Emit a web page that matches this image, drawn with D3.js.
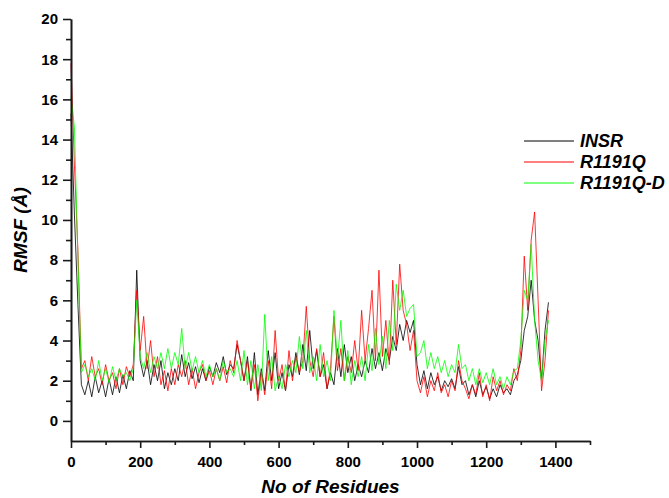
<!DOCTYPE html>
<html>
<head>
<meta charset="utf-8">
<script src="https://cdn.jsdelivr.net/npm/d3@7"></script>
<style>
  body { margin: 0; background: #fff; }
  text { font-family: "Liberation Sans", Arial, sans-serif; }
</style>
</head>
<body>
<svg id="chart" width="669" height="498"></svg>
<script>
//DATA (one value every 10 residues, starting at residue 0)
var residueStep = 10;

var seriesNames = ["INSR", "R1191Q", "R1191Q-D"];
var seriesColors = ["#000000", "#ff0000", "#00ff00"];

var insr = [15.3, 10.2, 5.8, 1.8, 1.3, 2.0, 1.2, 2.2, 1.4, 2.0,
    1.2, 2.1, 1.3, 2.2, 1.4, 2.3, 1.6, 2.5, 2.0, 7.5,
    3.0, 2.2, 3.0, 1.8, 2.8, 2.0, 3.0, 1.6, 2.4, 1.8,
    2.6, 2.0, 3.3, 2.2, 2.9, 2.1, 2.7, 1.9, 2.6, 2.0,
    2.7, 2.2, 2.9, 2.4, 3.2, 2.3, 2.8, 2.6, 3.8, 3.0,
    2.0, 3.2, 1.5, 3.4, 1.3, 2.6, 1.5, 3.5, 2.0, 3.4,
    1.6, 2.4, 1.5, 2.8, 2.2, 3.4, 2.3, 3.8, 2.5, 4.5,
    2.6, 3.5, 2.2, 2.8, 1.6, 2.4, 1.8, 3.6, 2.2, 3.8,
    2.4, 3.2, 2.0, 2.8, 2.2, 3.0, 2.4, 3.6, 2.6, 3.4,
    2.5, 3.6, 3.0, 4.2, 3.5, 4.8, 4.0, 5.0, 4.4, 5.0,
    2.8, 1.8, 2.5, 1.6, 2.4, 1.8, 2.2, 1.5, 2.0, 1.7,
    2.1, 1.6, 2.7, 1.8, 2.0, 1.3, 1.8, 1.2, 2.0, 1.3,
    1.7, 1.1, 1.6, 1.2, 1.8, 1.4, 1.6, 1.3, 2.0, 2.3,
    3.0, 4.5, 5.2, 7.0, 5.0, 4.0, 2.0, 4.5, 5.9];

var r1191q = [17.8, 12.7, 8.5, 2.6, 3.0, 2.0, 3.2, 2.2, 2.6, 1.8,
    2.8, 2.0, 2.4, 1.6, 2.6, 1.8, 2.7, 2.2, 2.8, 6.5,
    3.5, 5.2, 2.6, 4.0, 2.2, 3.2, 1.8, 2.5, 1.5, 2.6,
    1.8, 2.8, 2.2, 3.0, 1.8, 2.6, 1.6, 2.4, 2.8, 2.0,
    2.5, 1.8, 2.6, 2.0, 2.7, 1.9, 3.0, 2.4, 4.0, 3.0,
    2.0, 3.0, 1.6, 2.8, 1.0, 2.4, 1.3, 3.0, 1.6, 4.5,
    2.0, 2.8, 1.5, 3.5, 2.0, 3.2, 2.4, 3.0, 5.7, 3.0,
    2.2, 3.6, 2.2, 3.4, 1.6, 2.6, 5.2, 2.5, 3.6, 2.0,
    3.2, 2.4, 4.0, 2.5, 5.5, 3.0, 4.6, 6.5, 3.0, 7.5,
    3.2, 5.0, 2.8, 7.0, 3.8, 7.8, 5.5, 4.8, 3.5, 4.5,
    2.0, 1.4, 2.2, 1.2, 2.0, 1.5, 2.4, 1.4, 1.8, 1.2,
    2.0, 1.5, 3.0, 2.0, 1.6, 1.1, 1.8, 1.3, 2.4, 1.2,
    1.8, 1.0, 2.2, 1.5, 2.0, 1.3, 1.8, 1.5, 2.6, 2.0,
    3.5, 8.2, 5.5, 9.0, 10.4, 6.0, 1.5, 3.0, 5.5];

var r1191qD = [16.1, 14.6, 8.0, 2.4, 2.8, 2.2, 2.6, 2.0, 3.0, 2.0,
    2.6, 1.9, 2.7, 2.0, 2.6, 2.2, 2.4, 2.0, 2.6, 6.0,
    3.2, 2.6, 3.4, 2.4, 3.2, 2.6, 3.4, 2.6, 3.6, 2.6,
    3.4, 2.8, 4.6, 2.6, 3.4, 2.5, 3.2, 2.4, 3.0, 2.2,
    2.8, 2.2, 2.6, 2.0, 3.0, 2.4, 2.6, 2.2, 3.0, 2.0,
    3.5, 1.8, 3.0, 1.6, 2.8, 1.5, 5.3, 2.0, 3.2, 1.5,
    2.2, 1.6, 2.8, 2.2, 3.0, 2.4, 4.2, 2.6, 4.5, 2.4,
    3.2, 2.0, 3.8, 2.2, 3.0, 2.0, 5.5, 3.0, 5.0, 2.0,
    3.5, 1.8, 3.0, 2.2, 3.2, 2.0, 3.8, 2.5, 4.6, 2.8,
    4.2, 2.6, 5.0, 3.5, 6.8, 5.5, 6.5, 5.2, 5.6, 5.8,
    3.2, 3.4, 4.0, 2.6, 3.4, 2.6, 3.2, 2.4, 3.0, 2.2,
    2.8, 2.4, 3.8, 2.6, 2.8, 2.0, 2.6, 1.8, 2.6, 1.9,
    2.4, 1.8, 2.6, 1.8, 2.2, 1.6, 2.2, 1.8, 2.5, 2.6,
    4.0, 6.5, 6.0, 8.8, 5.0, 3.0, 2.0, 4.0, 5.0];

var xMajorTicks = [0, 200, 400, 600, 800, 1000, 1200, 1400];
var xMinorTicks = [100, 300, 500, 700, 900, 1100, 1300, 1500];
var yMajorTicks = [0, 2, 4, 6, 8, 10, 12, 14, 16, 18, 20];
var yMinorTicks = [1, 3, 5, 7, 9, 11, 13, 15, 17, 19];

var xTitle = "No of Residues";
var yTitle = "RMSF (Å)";

//LAYOUT
var svg = d3.select("#chart");
var x = d3.scaleLinear().domain([0, 1500]).range([71, 590]);
var y = d3.scaleLinear().domain([-1, 20]).range([441, 19]);

//draws the three RMSF traces
function drawLines() {
    var allSeries = [insr, r1191q, r1191qD];
    var line = d3.line()
        .x(function(d, i) { return x(i * residueStep); })
        .y(function(d) { return y(d); });

    svg.append("g")
        .selectAll("path")
        .data(allSeries)
        .enter().append("path")
        .attr("d", function(d) { return line(d); })
        .attr("fill", "none")
        .attr("stroke", function(d, i) { return seriesColors[i]; })
        .attr("stroke-width", 0.8)
        .attr("stroke-linejoin", "round");
}

//axes with major and minor ticks
function drawAxes() {
    var xMinor = svg.append("g").attr("transform", "translate(0," + y(-1) + ")")
        .call(d3.axisBottom(x).tickValues(xMinorTicks).tickSize(4).tickSizeOuter(0).tickFormat(""));
    var xMajor = svg.append("g").attr("transform", "translate(0," + y(-1) + ")")
        .call(d3.axisBottom(x).tickValues(xMajorTicks).tickSize(7).tickSizeOuter(0).tickPadding(8).tickFormat(d3.format("d")));

    var yMinor = svg.append("g").attr("transform", "translate(" + x(0) + ",0)")
        .call(d3.axisLeft(y).tickValues(yMinorTicks).tickSize(5).tickSizeOuter(0).tickFormat(""));
    var yMajor = svg.append("g").attr("transform", "translate(" + x(0) + ",0)")
        .call(d3.axisLeft(y).tickValues(yMajorTicks).tickSize(8).tickSizeOuter(0).tickPadding(5).tickFormat(d3.format("d")));

    [xMinor, xMajor, yMinor, yMajor].forEach(function(g) {
        g.selectAll("path, line").attr("stroke", "#1a1a1a").attr("stroke-width", 1.6);
        g.selectAll("text")
            .attr("fill", "#000")
            .style("font-size", "15px")
            .style("font-weight", "bold")
            .style("font-family", "'Liberation Sans', Arial, sans-serif");
    });

    svg.append("text")
        .attr("x", (x(0) + x(1500)) / 2)
        .attr("y", 493)
        .attr("text-anchor", "middle")
        .style("font-size", "19px")
        .style("font-weight", "bold")
        .style("font-style", "italic")
        .text(xTitle);

    svg.append("text")
        .attr("transform", "translate(27," + (y(-1) + y(20)) / 2 + ") rotate(-90)")
        .attr("text-anchor", "middle")
        .style("font-size", "19px")
        .style("font-weight", "bold")
        .style("font-style", "italic")
        .text(yTitle);
}

function drawLegend() {
    var legend = svg.append("g")
        .selectAll("g")
        .data(seriesNames)
        .enter().append("g")
        .attr("transform", function(d, i) { return "translate(524," + (141 + i * 21) + ")"; });

    legend.append("line")
        .attr("x1", 0).attr("x2", 50)
        .attr("y1", 0).attr("y2", 0)
        .attr("stroke", function(d, i) { return seriesColors[i]; })
        .attr("stroke-width", 1);

    legend.append("text")
        .attr("x", 56)
        .attr("y", 6)
        .style("font-size", "18px")
        .style("font-weight", "bold")
        .style("font-style", "italic")
        .text(function(d) { return d; });
}

drawLines();
drawAxes();
drawLegend();
</script>
</body>
</html>
